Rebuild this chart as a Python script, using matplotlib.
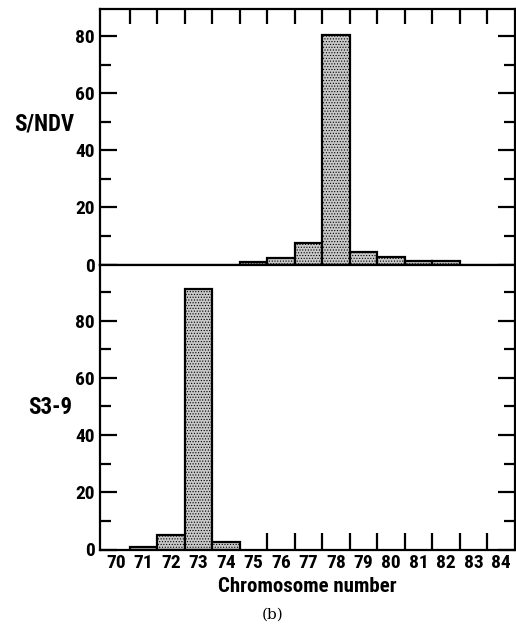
import matplotlib
matplotlib.use("Agg")
import matplotlib.pyplot as plt
from matplotlib.ticker import MultipleLocator, FixedLocator

plt.rcParams["font.family"] = ["Roboto Condensed", "Liberation Sans", "DejaVu Sans"]
plt.rcParams["font.weight"] = "bold"
plt.rcParams["axes.labelweight"] = "bold"
plt.rcParams["hatch.color"] = "#3a3a3a"
plt.rcParams["hatch.linewidth"] = 0.5

# chromosome counts (percent of cells)
chrom_top = [75, 76, 77, 78, 79, 80, 81, 82]
pct_top = [1, 2.3, 7.5, 80.5, 4.5, 2.5, 1.3, 1.3]
chrom_bottom = [71, 72, 73, 74]
pct_bottom = [1, 5, 91, 2.5]
xlabels = list(range(70, 85))

fig = plt.figure(figsize=(5.16, 6.26), dpi=100)
W, H = 516, 626
left, right = 100, 515
top, mid, bot = 8.5, 264.5, 549.5
ax1 = fig.add_axes([left / W, (H - mid) / H, (right - left) / W, (mid - top) / H])
ax2 = fig.add_axes([left / W, (H - bot) / H, (right - left) / W, (bot - mid) / H])

bar_style = dict(width=1.0, facecolor="#c8c8c8", edgecolor="black",
                 linewidth=1.6, hatch="......")
ax1.bar(chrom_top, pct_top, **bar_style)
ax2.bar(chrom_bottom, pct_bottom, **bar_style)

for ax in (ax1, ax2):
    ax.set_xlim(69.42, 84.5)
    for s in ax.spines.values():
        s.set_linewidth(1.6)
    ax.set_yticks([0, 20, 40, 60, 80])
    ax.yaxis.set_minor_locator(MultipleLocator(10))
    ax.tick_params(axis="y", which="both", direction="in", left=True, right=True,
                   width=1.6, labelsize=14, pad=4)
    ax.tick_params(axis="y", which="major", length=12.5)
    ax.tick_params(axis="y", which="minor", length=8)

ax1.set_ylim(0, 89.6)
ax2.set_ylim(0, 99.6)

# top panel: marks on top at bin edges, no labels
ax1.xaxis.set_major_locator(FixedLocator([x + 0.5 for x in xlabels[:-1]]))
ax1.tick_params(axis="x", which="major", direction="in", top=True, bottom=False,
                labelbottom=False, length=11, width=1.6)

# bottom panel: labels at integers, marks at empty bin edges
ax2.set_xticks(xlabels)
ax2.set_xticklabels([str(x) for x in xlabels])
ax2.tick_params(axis="x", which="major", length=0, labelsize=14, pad=3)
ax2.xaxis.set_minor_locator(FixedLocator([x + 0.5 for x in range(75, 84)]))
ax2.tick_params(axis="x", which="minor", direction="in", length=12.5, width=1.6)

ax1.set_ylabel("S/NDV", rotation=0, fontsize=16.5, ha="center", va="center")
ax1.yaxis.set_label_coords(-0.135, 0.549)
ax2.set_ylabel("S3-9", rotation=0, fontsize=16.5, ha="center", va="center")
ax2.yaxis.set_label_coords(-0.12, 0.5)
ax2.set_xlabel("Chromosome number", fontsize=15, labelpad=4)

fig.text(273 / W, 1 - 615 / H, "(b)", family="DejaVu Serif", weight="normal",
         fontsize=11, ha="center", va="center")

fig.savefig("out.png", dpi=100)
